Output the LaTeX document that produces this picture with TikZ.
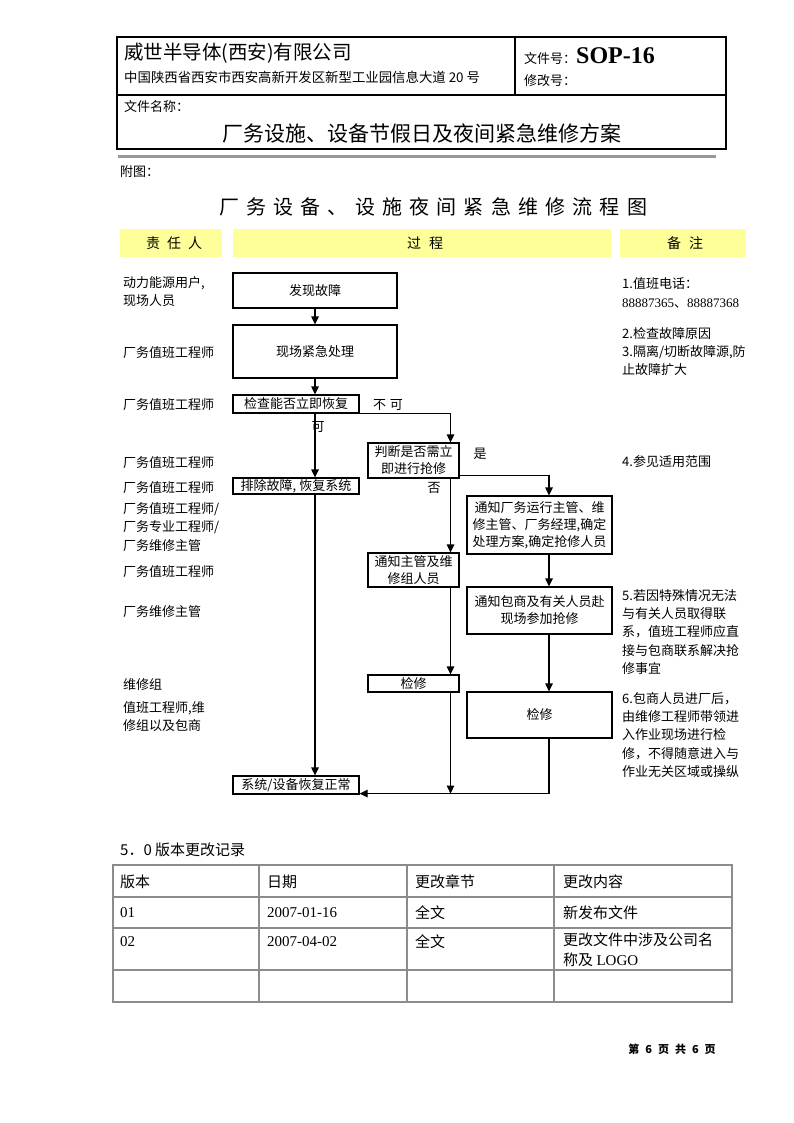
\documentclass[tikz,border=0pt]{standalone}
\usepackage{fontspec}
\setmainfont{Noto Sans CJK SC}
\newfontfamily\lserif{Liberation Serif}
\usetikzlibrary{arrows.meta}
\newcommand\myfs[2]{\fontsize{#1}{#2}\selectfont}
\definecolor{hdryellow}{HTML}{FFFF99}
\definecolor{rulegray}{HTML}{8C8C8C}
\definecolor{bargray}{HTML}{999999}
\begin{document}
\begin{tikzpicture}[x=1pt,y=-1pt,
  box/.style={draw, line width=1.2pt, inner sep=0pt, align=center, font=\myfs{13}{17}},
  arr/.style={line width=1.2pt, -{Triangle[length=8pt,width=7.5pt]}},
  lbl/.style={inner sep=0pt, anchor=west, align=left, font=\myfs{13}{18.3}},
  clbl/.style={inner sep=0pt, font=\myfs{13}{16}},
  yhead/.style={inner sep=0pt, font=\myfs{14}{16}},
  tcell/.style={inner sep=0pt, anchor=west, align=left, font=\myfs{15}{20}},
  tline/.style={draw=rulegray, line width=1.4pt}]
\useasboundingbox (0,0) rectangle (794,1123);
\fill[white] (0,0) rectangle (794,1123);

% ---------- header ----------
\draw[line width=2pt] (117,37) rectangle (726,149);
\draw[line width=1.4pt] (515,37) -- (515,95);
\draw[line width=1.4pt] (117,95) -- (726,95);
\draw[draw=bargray, line width=3pt] (118,157) -- (716,157);
\node[inner sep=0pt, anchor=west, font=\myfs{19.5}{20}] (company) at (124,53) {威世半导体(西安)有限公司};
\node[inner sep=0pt, anchor=west, font=\myfs{13.4}{14}] (address) at (124,77) {中国陕西省西安市西安高新开发区新型工业园信息大道 20 号};
\node[inner sep=0pt, anchor=west, font=\myfs{13}{14}] (docno) at (524,56) {文件号：{\lserif\bfseries\myfs{24}{24}SOP-16}};
\node[inner sep=0pt, anchor=west, font=\myfs{13}{14}] (revno) at (524,81) {修改号：};
\node[inner sep=0pt, anchor=west, font=\myfs{13}{14}] (docname) at (124,107) {文件名称：};
\node[inner sep=0pt, font=\myfs{21}{22}] (doctitle) at (422,133) {厂务设施、设备节假日及夜间紧急维修方案};

\node[inner sep=0pt, anchor=west, font=\myfs{13}{14}] (fig) at (120,172) {附图：};
\node[inner sep=0pt, font=\myfs{20}{22}] (charttitle) at (433,207) {\addfontfeature{LetterSpace=36}厂务设备、设施夜间紧急维修流程图};

% ---------- yellow column headers ----------
\fill[hdryellow] (120,229) rectangle (222,257);
\fill[hdryellow] (233,229) rectangle (611,257);
\fill[hdryellow] (620,229) rectangle (746,257);
\node[yhead] (hresp) at (174,243) {责\hspace{7pt}任\hspace{7pt}人};
\node[yhead] (hproc) at (425,243) {过\hspace{8pt}程};
\node[yhead] (hnote) at (685,243) {备\hspace{8pt}注};

% ---------- responsible persons ----------
\node[lbl] (p1) at (123,291.5) {动力能源用户,\\现场人员};
\node[lbl] (p2) at (123,352.5) {厂务值班工程师};
\node[lbl] (p3) at (123,404.5) {厂务值班工程师};
\node[lbl] (p4) at (123,462.5) {厂务值班工程师};
\node[lbl] (p5) at (123,488) {厂务值班工程师};
\node[lbl] (p6) at (123,527) {厂务值班工程师/\\厂务专业工程师/\\厂务维修主管};
\node[lbl] (p7) at (123,571.5) {厂务值班工程师};
\node[lbl] (p8) at (123,612) {厂务维修主管};
\node[lbl] (p9) at (123,685) {维修组};
\node[lbl] (p10) at (123,716.5) {值班工程师,维\\修组以及包商};

% ---------- notes ----------
\node[lbl] (n1) at (622,293) {1.值班电话：\\{\lserif 88887365}、{\lserif 88887368}};
\node[lbl] (n2) at (622,351.5) {2.检查故障原因\\3.隔离/切断故障源,防\\止故障扩大};
\node[lbl] (n3) at (622,462) {4.参见适用范围};
\node[lbl] (n4) at (622,632) {5.若因特殊情况无法\\与有关人员取得联\\系，值班工程师应直\\接与包商联系解决抢\\修事宜};
\node[lbl] (n5) at (622,735) {6.包商人员进厂后，\\由维修工程师带领进\\入作业现场进行检\\修，不得随意进入与\\作业无关区域或操纵};

% ---------- process boxes ----------
\node[box, minimum width=164, minimum height=35] (find) at (315,290.5) {发现故障};
\node[box, minimum width=164, minimum height=53] (emerg) at (315,351.5) {现场紧急处理};
\node[box, minimum width=126, minimum height=18] (check) at (296,404) {检查能否立即恢复};
\node[box, minimum width=126, minimum height=16] (fix) at (296,486) {排除故障, 恢复系统};
\node[box, minimum width=91, minimum height=35] (judge) at (413.5,460.5) {判断是否需立\\即进行抢修};
\node[box, minimum width=145, minimum height=58] (notify1) at (539.5,525) {通知厂务运行主管、维\\修主管、厂务经理,确定\\处理方案,确定抢修人员};
\node[box, minimum width=91, minimum height=34] (notify2) at (413.5,570) {通知主管及维\\修组人员};
\node[box, minimum width=145, minimum height=47] (notify3) at (539.5,610.5) {通知包商及有关人员赴\\现场参加抢修};
\node[box, minimum width=91, minimum height=17] (repair1) at (413.5,683.5) {检修};
\node[box, minimum width=145, minimum height=46] (repair2) at (539.5,715) {检修};
\node[box, minimum width=126, minimum height=18] (final) at (296,785) {系统/设备恢复正常};

% ---------- connectors ----------
\coordinate (c1) at (315,0);
\coordinate (c2) at (450.5,0);
\coordinate (c3) at (549,0);
\draw[arr] (find.south) -- (emerg.north);
\draw[arr] (emerg.south) -- (check.north -| c1);
\draw[arr] (check.south -| c1) -- (fix.north -| c1);
\draw[arr] (check.south east) -| (judge.north -| c2);
\draw[arr] ([yshift=3pt]judge.south east) -| (notify1.north -| c3);
\draw[arr] (judge.south -| c2) -- (notify2.north -| c2);
\draw[arr] (notify1.south -| c3) -- (notify3.north -| c3);
\draw[arr] (notify2.south -| c2) -- (repair1.north -| c2);
\draw[arr] (notify3.south -| c3) -- (repair2.north -| c3);
\draw[arr] (fix.south -| c1) -- (final.north -| c1);
\draw[arr] (repair2.south -| c3) |- ([yshift=1pt]final.south east);
\draw[arr] (repair1.south -| c2) -- ([yshift=1pt]c2 |- final.south east);

% ---------- connector labels ----------
\node[clbl] (lno) at (388,405) {不\hspace{4pt}可};
\node[clbl] (lyes) at (318,427) {可};
\node[clbl] (lshi) at (480,454) {是};
\node[clbl] (lfou) at (434,488) {否};

% ---------- revision table ----------
\node[inner sep=0pt, anchor=west, font=\myfs{15}{16}] (revtitle) at (120,850) {5．0 版本更改记录};
\draw[tline] (113,865) rectangle (732,1002);
\draw[tline] (113,897) -- (732,897);
\draw[tline] (113,928) -- (732,928);
\draw[tline] (113,970) -- (732,970);
\draw[tline] (259,865) -- (259,1002);
\draw[tline] (407,865) -- (407,1002);
\draw[tline] (554,865) -- (554,1002);
\node[tcell] (t11) at (120,882) {版本};
\node[tcell] (t12) at (267,882) {日期};
\node[tcell] (t13) at (415,882) {更改章节};
\node[tcell] (t14) at (563,882) {更改内容};
\node[tcell] (t21) at (120,913) {\lserif 01};
\node[tcell] (t22) at (267,913) {\lserif 2007-01-16};
\node[tcell] (t23) at (415,913) {全文};
\node[tcell] (t24) at (563,913) {新发布文件};
\node[tcell] (t31) at (120,942) {\lserif 02};
\node[tcell] (t32) at (267,942) {\lserif 2007-04-02};
\node[tcell] (t33) at (415,942) {全文};
\node[tcell] (t34) at (563,950) {更改文件中涉及公司名\\称及 {\lserif LOGO}};

% ---------- footer ----------
\node[inner sep=0pt, font=\myfs{11}{12}\bfseries] (footer) at (672,1049) {第\hspace{6pt}6\hspace{6pt}页\hspace{6pt}共\hspace{6pt}6\hspace{6pt}页};
\end{tikzpicture}
\end{document}
